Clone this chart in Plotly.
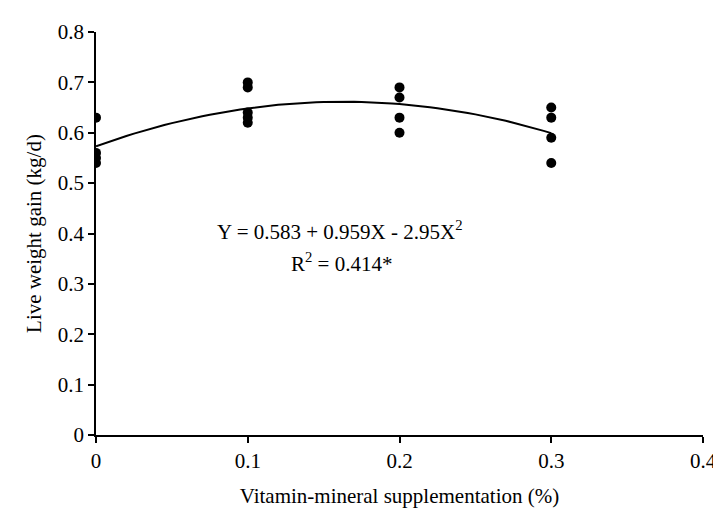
import numpy as np
import plotly.graph_objects as go

# Data
supp_x = [0, 0, 0, 0,
          0.1, 0.1, 0.1, 0.1, 0.1,
          0.2, 0.2, 0.2, 0.2,
          0.3, 0.3, 0.3, 0.3]
gain_y = [0.63, 0.56, 0.55, 0.54,
          0.70, 0.69, 0.64, 0.63, 0.62,
          0.69, 0.67, 0.63, 0.60,
          0.65, 0.63, 0.59, 0.54]

x_ticks = [0, 0.1, 0.2, 0.3, 0.4]
x_tick_labels = ["0", "0.1", "0.2", "0.3", "0.4"]
y_ticks = [0, 0.1, 0.2, 0.3, 0.4, 0.5, 0.6, 0.7, 0.8]
y_tick_labels = ["0", "0.1", "0.2", "0.3", "0.4", "0.5", "0.6", "0.7", "0.8"]

eq_text = "Y = 0.583 + 0.959X - 2.95X<sup>2</sup>"
r2_text = "R<sup>2</sup> = 0.414*"

# Quadratic trend line fitted to the points
coef = np.polyfit(supp_x, gain_y, 2)
xs = np.linspace(0, 0.3, 61)
ys = np.polyval(coef, xs)

FONT = "Liberation Serif, Times New Roman, serif"
FS = 21

fig = go.Figure()
fig.add_trace(go.Scatter(x=xs, y=ys, mode="lines",
                         line=dict(color="black", width=2), hoverinfo="skip"))
fig.add_trace(go.Scatter(x=supp_x, y=gain_y, mode="markers",
                         marker=dict(color="black", size=10)))

fig.add_annotation(x=0.161, y=0.406, text=eq_text, showarrow=False,
                   font=dict(family=FONT, size=FS, color="black"))
fig.add_annotation(x=0.162, y=0.343, text=r2_text, showarrow=False,
                   font=dict(family=FONT, size=FS, color="black"))

fig.update_layout(
    width=721, height=508,
    margin=dict(l=88, r=19, t=23, b=81),
    paper_bgcolor="white", plot_bgcolor="white",
    showlegend=False,
    font=dict(family=FONT, size=FS, color="black"),
    xaxis=dict(range=[0, 0.4], tickvals=x_ticks, ticktext=x_tick_labels,
               showgrid=False, zeroline=False, showline=True,
               linecolor="black", linewidth=1.5, ticks="outside",
               ticklen=6, tickwidth=1.5, tickcolor="black",
               title=dict(text="Vitamin-mineral supplementation (%)",
                          font=dict(family=FONT, size=FS), standoff=16)),
    yaxis=dict(range=[0, 0.8], tickvals=y_ticks, ticktext=y_tick_labels,
               showgrid=False, zeroline=False, showline=True,
               linecolor="black", linewidth=1.5, ticks="outside",
               ticklen=6, tickwidth=1.5, tickcolor="black",
               title=dict(text="Live weight gain (kg/d)",
                          font=dict(family=FONT, size=FS), standoff=10)),
)

fig.write_html("out.html")
